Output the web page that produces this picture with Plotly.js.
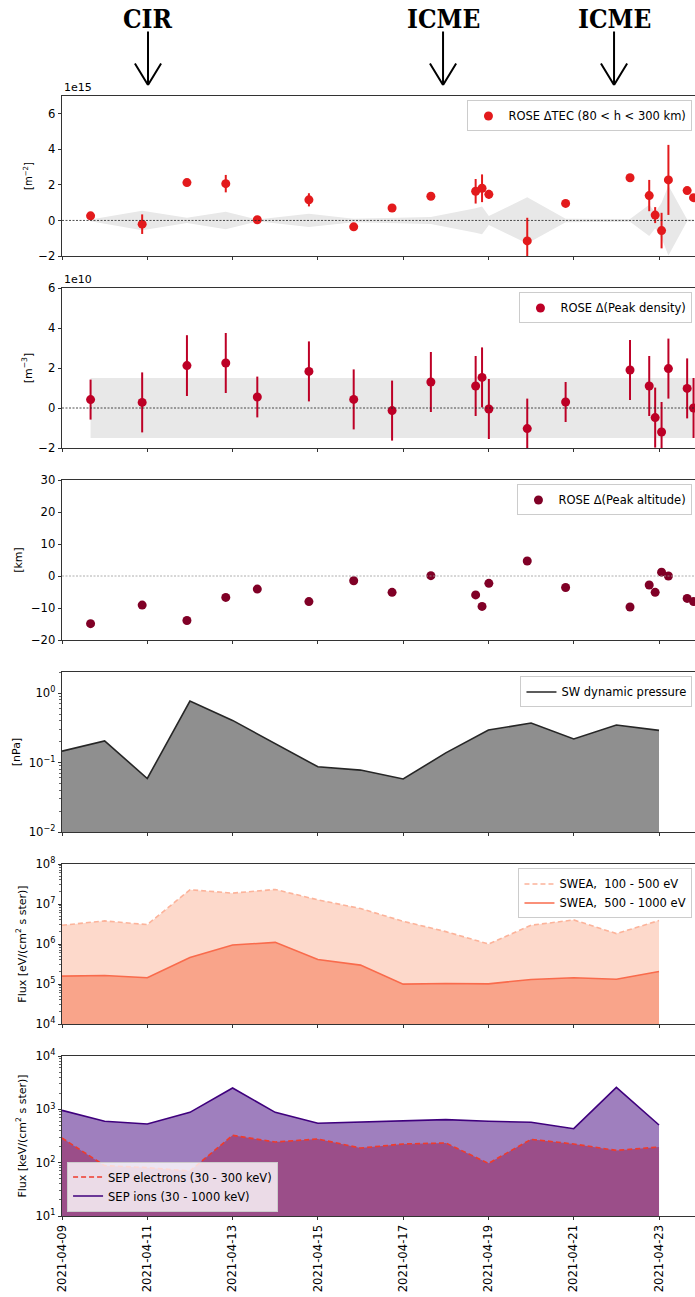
<!DOCTYPE html>
<html>
<head>
<meta charset="utf-8">
<script src="https://cdn.plot.ly/plotly-3.0.1.min.js"></script>
<style>html,body{margin:0;padding:0;background:#fff;}#chart{width:695px;height:1297px;}</style>
</head>
<body>
<div id="chart"></div>
<script>
// ---------------- DATA ----------------
const roseTimes = ['2021-04-09 16:05','2021-04-10 21:07','2021-04-11 22:19','2021-04-12 20:10','2021-04-13 13:55',
  '2021-04-14 18:58','2021-04-15 20:10','2021-04-16 17:46','2021-04-17 15:36','2021-04-18 16:48','2021-04-18 20:24',
  '2021-04-19 00:14','2021-04-19 21:50','2021-04-20 19:26','2021-04-22 07:41','2021-04-22 18:29','2021-04-22 21:50',
  '2021-04-23 01:26','2021-04-23 05:17','2021-04-23 15:50','2021-04-23 19:26'];
// Delta TEC (x1e15 m^-2)
const tecVals = [0.26,-0.21,2.13,2.07,0.04,1.16,-0.36,0.70,1.36,1.64,1.81,1.47,-1.15,0.96,2.40,1.40,0.30,-0.57,2.28,1.68,1.28];
const tecErr  = [0.05,0.55,0.15,0.49,0.05,0.37,0.10,0.15,0.20,0.69,0.78,0.25,1.30,0.10,0.08,0.88,0.45,1.00,1.97,0.05,0.05];
// Delta peak density (x1e10 m^-3)
const densVals = [0.42,0.28,2.12,2.25,0.55,1.83,0.43,-0.13,1.30,1.10,1.53,-0.05,-1.03,0.30,1.90,1.10,-0.48,-1.20,1.97,0.98,0.00];
const densErr  = [1.00,1.50,1.52,1.50,1.02,1.50,1.50,1.50,1.50,1.50,1.50,1.50,1.50,1.00,1.50,1.50,1.50,1.50,1.50,1.50,1.50];
const densBandHalf = 1.5;
// Delta peak altitude (km)
const altVals = [-14.9,-9.1,-13.9,-6.7,-4.1,-8.0,-1.5,-5.1,0.1,-5.9,-9.5,-2.3,4.7,-3.6,-9.7,-2.8,-5.1,1.2,0.0,-7.0,-8.0];
const altErr  = [0.5,0.5,0.5,0.5,0.5,0.5,0.5,0.5,0.5,0.5,0.5,0.5,0.5,0.5,0.5,0.5,0.5,0.5,0.5,0.5,0.5];

const days = ['2021-04-09','2021-04-10','2021-04-11','2021-04-12','2021-04-13','2021-04-14','2021-04-15','2021-04-16',
  '2021-04-17','2021-04-18','2021-04-19','2021-04-20','2021-04-21','2021-04-22','2021-04-23'];
const swPressure = [0.146,0.205,0.059,0.77,0.405,0.19,0.087,0.078,0.058,0.138,0.294,0.371,0.219,0.347,0.291];
const swea100_500  = [2.94e6,3.78e6,3.05e6,2.27e7,1.87e7,2.31e7,1.27e7,7.7e6,3.7e6,2.04e6,1.0e6,2.94e6,4.0e6,1.82e6,3.85e6];
const swea500_1000 = [1.57e5,1.63e5,1.43e5,4.6e5,9.4e5,1.10e6,4.1e5,2.97e5,9.9e4,1.03e5,1.01e5,1.30e5,1.43e5,1.32e5,2.06e5];
const sepElectrons = [290,88,80.6,69.8,325,244,278,188,224,234,97,274,224,170,197];
const sepIons      = [957,596,531,879,2512,879,547,571,604,640,596,571,434,2585,508];

const xTickVals = ['2021-04-09','2021-04-11','2021-04-13','2021-04-15','2021-04-17','2021-04-19','2021-04-21','2021-04-23'];
const xTickText = ['2021-04-09','2021-04-11','2021-04-13','2021-04-15','2021-04-17','2021-04-19','2021-04-21','2021-04-23'];
const xRange = ['2021-04-09 00:00','2021-04-23 20:15'];

const events = [
  {name:'CIR',  time:'2021-04-11 00:24'},
  {name:'ICME', time:'2021-04-17 22:27'},
  {name:'ICME', time:'2021-04-21 22:41'}
];

const legendNames = {
  tec:'ROSE ΔTEC (80 < h < 300 km)',
  dens:'ROSE Δ(Peak density)',
  alt:'ROSE Δ(Peak altitude)',
  pdyn:'SW dynamic pressure',
  s1:'SWEA,\u00a0 100 - 500 eV',
  s2:'SWEA,\u00a0 500 - 1000 eV',
  e:'SEP electrons (30 - 300 keV)',
  i:'SEP ions (30 - 1000 keV)'
};

// ---------------- LAYOUT HELPERS ----------------
const PH = 1120;
function dom(i){ const top = 192*i, bot = top+160; return [1-bot/PH, 1-top/PH]; }
const FONT = 'DejaVu Sans, sans-serif';
const TICKF = {family:FONT, size:11.6, color:'#000'};

function logMinor(lo, hi){
  const v=[]; for(let e=lo;e<hi;e++){ for(let k=2;k<=9;k++){ v.push(k*Math.pow(10,e)); } } return v;
}
function sup(e){ return '10<sup>'+(e<0?'\u2212'+(-e):e)+'</sup>'; }

function xaxis(i){
  return {
    type:'date', range:xRange, domain:[0,1], anchor:'y'+(i===1?'':i),
    tickmode:'array', tickvals:xTickVals, ticktext:xTickText,
    showticklabels: i===6, tickangle:-90, tickfont:TICKF,
    ticks:'outside', ticklen:3.5, tickwidth:0.8, tickcolor:'#000',
    showline:true, mirror:true, linecolor:'#000', linewidth:0.8,
    showgrid:false, zeroline:false
  };
}
function yaxisBase(i, extra){
  return Object.assign({
    domain:dom(i-1), anchor:'x'+(i===1?'':i), tickfont:TICKF,
    ticks:'outside', ticklen:3.5, tickwidth:0.8, tickcolor:'#000',
    showline:true, mirror:true, linecolor:'#000', linewidth:0.8,
    showgrid:false, zeroline:false
  }, extra);
}
function ytitle(t, size, standoff){ return {text:t, font:{family:FONT, size:size, color:'#000'}, standoff:standoff}; }

// ---------------- TRACES ----------------
const traces = [];
function bandPoly(x, half){
  const xs = x.concat(x.slice().reverse());
  const ys = half.concat(half.slice().reverse().map(v=>-v));
  return {xs, ys};
}
// Panel 1 band + points
let b1 = bandPoly(roseTimes, tecErr);
traces.push({x:b1.xs, y:b1.ys, xaxis:'x', yaxis:'y', type:'scatter', mode:'lines', fill:'toself',
  fillcolor:'#e8e8e8', line:{width:0}, showlegend:false, hoverinfo:'skip'});
traces.push({x:roseTimes, y:tecVals, xaxis:'x', yaxis:'y', type:'scatter', mode:'markers', name:legendNames.tec,
  marker:{color:'#e31a1c', size:9}, error_y:{type:'data', array:tecErr, visible:true, color:'#e31a1c', thickness:2, width:0},
  legend:'legend'});
// Panel 2
let b2 = bandPoly(roseTimes, roseTimes.map(()=>densBandHalf));
traces.push({x:b2.xs, y:b2.ys, xaxis:'x2', yaxis:'y2', type:'scatter', mode:'lines', fill:'toself',
  fillcolor:'#e8e8e8', line:{width:0}, showlegend:false, hoverinfo:'skip'});
traces.push({x:roseTimes, y:densVals, xaxis:'x2', yaxis:'y2', type:'scatter', mode:'markers', name:legendNames.dens,
  marker:{color:'#bd0026', size:9}, error_y:{type:'data', array:densErr, visible:true, color:'#bd0026', thickness:2, width:0},
  legend:'legend2'});
// Panel 3
traces.push({x:roseTimes, y:altVals, xaxis:'x3', yaxis:'y3', type:'scatter', mode:'markers', name:legendNames.alt,
  marker:{color:'#800026', size:9}, error_y:{type:'data', array:altErr, visible:true, color:'#800026', thickness:2, width:0},
  legend:'legend3'});
// area helper (log axes: fill to axis bottom)
function area(x, y, base, xa, ya, color){
  return {x:x.concat(x.slice().reverse()), y:y.concat(x.map(()=>base)), xaxis:xa, yaxis:ya, type:'scatter',
    mode:'lines', fill:'toself', fillcolor:color, line:{width:0}, showlegend:false, hoverinfo:'skip'};
}
// Panel 4
traces.push(area(days, swPressure, 0.01, 'x4', 'y4', '#8f8f8f'));
traces.push({x:days, y:swPressure, xaxis:'x4', yaxis:'y4', type:'scatter', mode:'lines', name:legendNames.pdyn,
  line:{color:'#262626', width:1.6}, legend:'legend4'});
// Panel 5
traces.push(area(days, swea100_500, 1e4, 'x5', 'y5', '#fdd9cb'));
traces.push(area(days, swea500_1000, 1e4, 'x5', 'y5', '#f9a48a'));
traces.push({x:days, y:swea100_500, xaxis:'x5', yaxis:'y5', type:'scatter', mode:'lines', name:legendNames.s1,
  line:{color:'#fcb39a', width:1.6, dash:'5px,3px'}, legend:'legend5'});
traces.push({x:days, y:swea500_1000, xaxis:'x5', yaxis:'y5', type:'scatter', mode:'lines', name:legendNames.s2,
  line:{color:'#f96b4c', width:1.6}, legend:'legend5'});
// Panel 6
traces.push(area(days, sepIons, 10, 'x6', 'y6', '#9f7fbe'));
traces.push(area(days, sepElectrons, 10, 'x6', 'y6', '#9b4e89'));
traces.push({x:days, y:sepElectrons, xaxis:'x6', yaxis:'y6', type:'scatter', mode:'lines', name:legendNames.e,
  line:{color:'#ef3b2c', width:1.6, dash:'5px,3px'}, legend:'legend6'});
traces.push({x:days, y:sepIons, xaxis:'x6', yaxis:'y6', type:'scatter', mode:'lines', name:legendNames.i,
  line:{color:'#3f007d', width:1.6}, legend:'legend6'});

// ---------------- LAYOUT ----------------
const LEGF = {family:FONT, size:11.5, color:'#000'};
function legTR(i){
  return {x:0.996, y:dom(i-1)[1]-0.004, xanchor:'right', yanchor:'top', xref:'paper', yref:'paper',
    bgcolor:'rgba(255,255,255,0.8)', bordercolor:'#cccccc', borderwidth:1, font:LEGF, tracegroupgap:0};
}
const layout = {
  width:695, height:1297, margin:{l:62, r:0, t:96, b:81}, paper_bgcolor:'#fff', plot_bgcolor:'#fff',
  font:{family:FONT, color:'#000'}, showlegend:true,
  legend:legTR(1), legend2:legTR(2), legend3:legTR(3), legend4:legTR(4), legend5:legTR(5),
  legend6:{x:0.008, y:dom(5)[0]+0.004, xanchor:'left', yanchor:'bottom', xref:'paper', yref:'paper',
    bgcolor:'rgba(255,255,255,0.8)', bordercolor:'#cccccc', borderwidth:1, font:LEGF},
  xaxis:xaxis(1), xaxis2:xaxis(2), xaxis3:xaxis(3), xaxis4:xaxis(4), xaxis5:xaxis(5), xaxis6:xaxis(6),
  yaxis: yaxisBase(1, {range:[-2,7], tickmode:'array', tickvals:[-2,0,2,4,6], ticktext:['\u22122','0','2','4','6'],
    title:ytitle('[m<sup>\u22122</sup>]', 10, 3)}),
  yaxis2: yaxisBase(2, {range:[-2,6], tickmode:'array', tickvals:[-2,0,2,4,6], ticktext:['\u22122','0','2','4','6'],
    title:ytitle('[m<sup>\u22123</sup>]', 11, 3)}),
  yaxis3: yaxisBase(3, {range:[-20,30], tickmode:'array', tickvals:[-20,-10,0,10,20,30],
    ticktext:['\u221220','\u221210','0','10','20','30'], title:ytitle('[km]', 11, 5)}),
  yaxis4: yaxisBase(4, {type:'log', range:[-2,0.305], tickmode:'array', tickvals:[0.01,0.1,1], ticktext:[sup(-2),sup(-1),sup(0)],
    minor:{tickmode:'array', tickvals:logMinor(-2,1), ticks:'outside', ticklen:2, tickwidth:0.6, tickcolor:'#000'},
    title:ytitle('[nPa]', 11, 5)}),
  yaxis5: yaxisBase(5, {type:'log', range:[4,8], tickmode:'array', tickvals:[1e4,1e5,1e6,1e7,1e8],
    ticktext:[sup(4),sup(5),sup(6),sup(7),sup(8)],
    minor:{tickmode:'array', tickvals:logMinor(4,8), ticks:'outside', ticklen:2, tickwidth:0.6, tickcolor:'#000'},
    title:ytitle('Flux [eV/(cm<sup>2</sup> s ster)]', 11, 6)}),
  yaxis6: yaxisBase(6, {type:'log', range:[1,4], tickmode:'array', tickvals:[1e1,1e2,1e3,1e4],
    ticktext:[sup(1),sup(2),sup(3),sup(4)],
    minor:{tickmode:'array', tickvals:logMinor(1,4), ticks:'outside', ticklen:2, tickwidth:0.6, tickcolor:'#000'},
    title:ytitle('Flux [keV/(cm<sup>2</sup> s ster)]', 11, 6)}),
  shapes:[
    {type:'line', xref:'x domain', yref:'y', x0:0, x1:1, y0:0, y1:0, line:{color:'#222', width:0.8, dash:'2px,1.5px'}},
    {type:'line', xref:'x2 domain', yref:'y2', x0:0, x1:1, y0:0, y1:0, line:{color:'#222', width:0.8, dash:'2px,1.5px'}},
    {type:'line', xref:'x3 domain', yref:'y3', x0:0, x1:1, y0:0, y1:0, line:{color:'#999', width:0.8, dash:'2px,1.5px'}}
  ],
  annotations:[]
};
// offset texts
layout.annotations.push({text:'1e15', xref:'paper', yref:'paper', x:0, y:dom(0)[1], xanchor:'left', yanchor:'bottom',
  showarrow:false, font:{family:FONT, size:11, color:'#000'}, yshift:0});
layout.annotations.push({text:'1e10', xref:'paper', yref:'paper', x:0, y:dom(1)[1], xanchor:'left', yanchor:'bottom',
  showarrow:false, font:{family:FONT, size:11, color:'#000'}, yshift:0});
// event labels + open arrows
const tipY = 1 + (96-85)/PH;
events.forEach(ev=>{
  layout.annotations.push({text:'<b>'+ev.name+'</b>', xref:'x', yref:'paper', x:ev.time, y:1+(96-19)/PH,
    xanchor:'center', yanchor:'middle', showarrow:false,
    font:{family:'DejaVu Serif Condensed, DejaVu Serif, serif', size:26, color:'#000'}});
  [[0,-55],[-14,-23],[14,-23]].forEach(([ax,ay])=>{
    layout.annotations.push({text:'', xref:'x', yref:'paper', x:ev.time, y:tipY, showarrow:true,
      arrowhead:0, arrowwidth:2, arrowcolor:'#000', ax:ax, ay:ay, standoff:0, startstandoff:0});
  });
});

Plotly.newPlot('chart', traces, layout, {displayModeBar:false, staticPlot:true});
</script>
</body>
</html>
